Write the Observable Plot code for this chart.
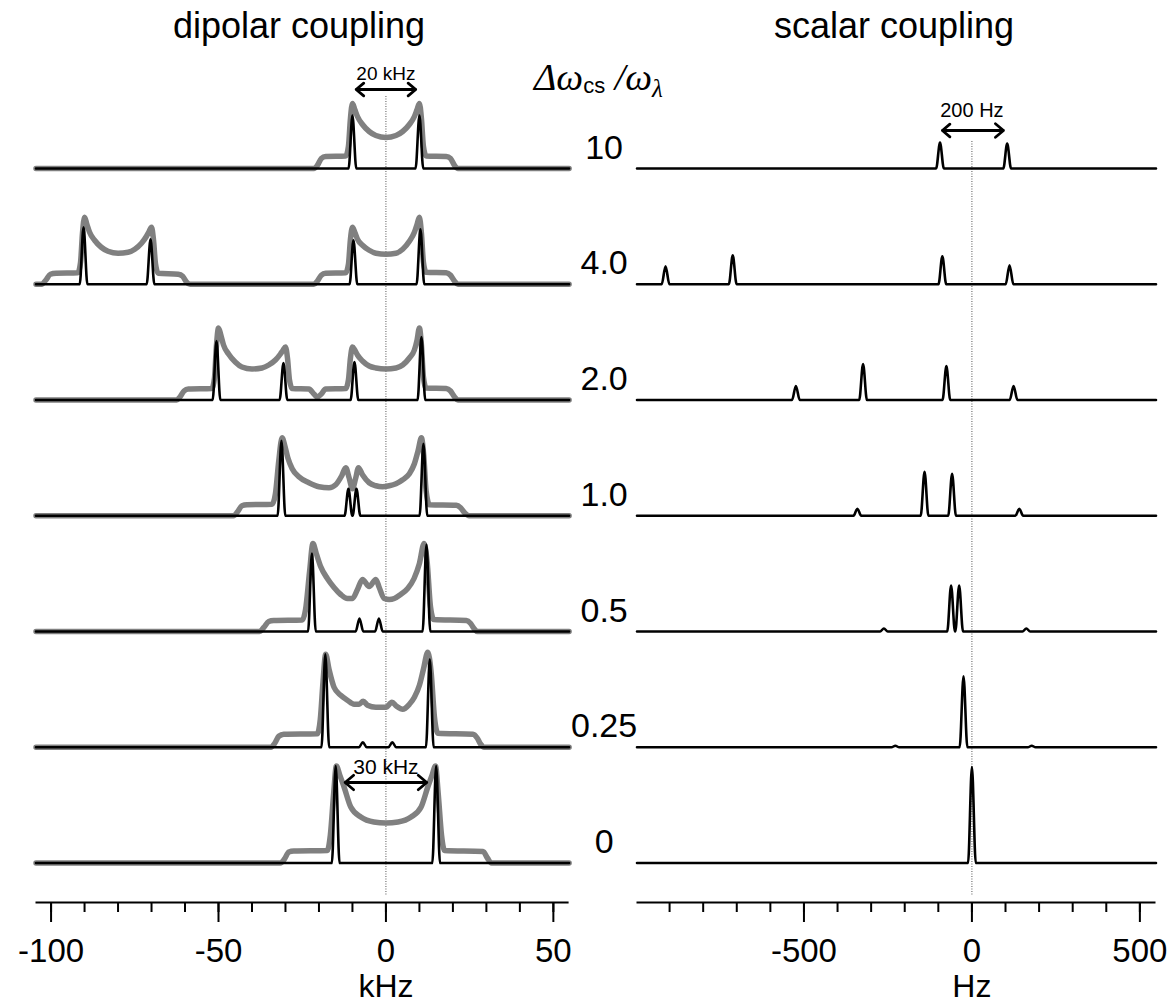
<!DOCTYPE html>
<html>
<head>
<meta charset="utf-8">
<script src="https://cdn.jsdelivr.net/npm/d3@7"></script>
<script src="https://cdn.jsdelivr.net/npm/@observablehq/plot@0.6"></script>
<style>
  html, body { margin: 0; padding: 0; background: #fff; }
  #fig { position: relative; width: 1172px; height: 1004px; overflow: hidden; font-family: "Liberation Sans", Arial, sans-serif; color: #000; }
  #left { position: absolute; left: 0; top: 0; width: 640px; height: 1004px; }
  #right { position: absolute; left: 620px; top: 0; width: 552px; height: 1004px; }
  #fig svg { max-width: none; overflow: visible; }
  .title { position: absolute; top: 8px; font-size: 36px; line-height: 36px; white-space: nowrap; transform: translateX(-50%); }
  #ratio { position: absolute; left: 534px; top: 58px; font-family: "Liberation Serif", "Times New Roman", serif; font-style: italic; font-size: 38px; line-height: 38px; white-space: nowrap; }
  #ratio .cs { font-family: "Liberation Sans", Arial, sans-serif; font-style: normal; font-size: 22px; position: relative; top: 3px; }
  #ratio .lam { font-size: 25px; position: relative; top: 7px; }
</style>
</head>
<body>
<div id="fig">
  <div id="left"></div>
  <div id="right"></div>
  <div class="title" style="left:299px">dipolar coupling</div>
  <div class="title" style="left:894px">scalar coupling</div>
  <div id="ratio">Δω<span class="cs">cs</span> /ω<span class="lam">λ</span></div>
</div>
<script>
// ---------- data ----------
const ratioLabels = ["10", "4.0", "2.0", "1.0", "0.5", "0.25", "0"];

// dipolar coupling: stick lines (kHz) and their heights (a.u.), one list per row (top to bottom)
const dipolarPeakKHz = [
  [-10, 10],
  [-90.3, -70.3, -9.7, 10.3],
  [-50.6, -30.6, -9.4, 10.6],
  [-31.2, -11.2, -8.8, 11.2],
  [-22.1, -7.9, -2.1, 12.1],
  [-18.1, -6.9, 1.9, 13.1],
  [-15, 15]
];
const dipolarPeakHeight = [
  [53, 53],
  [57, 45, 44, 55],
  [59, 37, 38, 63],
  [75, 27, 27, 72],
  [78, 13, 13, 87],
  [93, 5, 5, 88],
  [97, 97]
];

// dipolar coupling: grey powder patterns, [kHz, height] per row
const powder10 = [[-104.5,0],[-21.5,0],[-20.5,3],[-19.3,10],[-18,12],[-12,12.5],[-11.2,22],[-10.6,50],[-10,65],[-9.3,59],[-8.5,52],[-7,44],[-5,37],[-3,33],[0,31],[3,33],[5,37],[7,44],[8.5,52],[9.3,59],[10,65],[10.6,50],[11.2,22],[12,12.5],[18,12],[19.3,10],[20.5,3],[21.5,0],[54.7,0]];
const powder4 = [[-104.5,0],[-102.8,0],[-101.6,4],[-100.2,10],[-98.5,11],[-92,11.5],[-91.2,22],[-90.6,52],[-90,67],[-89.3,60],[-88.5,52],[-87,44],[-85,37],[-83,33],[-80,31],[-77,32],[-75,35],[-73,41],[-71.5,48],[-70.7,53],[-70,57],[-69.4,44],[-68.8,20],[-68,11],[-62,10],[-60.7,8],[-59.5,2],[-58.5,0],[-21.5,0],[-20.5,3],[-19.3,9],[-18,11],[-12,11.5],[-11.2,20],[-10.6,45],[-10,57],[-9.3,52],[-8.5,45],[-7,39],[-5,34],[-3,31],[0,30],[3,31],[5,35],[7,43],[8.5,52],[9.3,60],[10,67],[10.6,51],[11.2,22],[12,12],[18,11.5],[19.3,9],[20.5,3],[21.5,0],[54.7,0]];
const powder2 = [[-104.5,0],[-62.5,0],[-61.5,3],[-60.3,9],[-59,11],[-52,11.5],[-51.2,22],[-50.6,55],[-50,72],[-49.3,65],[-48.5,55],[-47,46],[-45,38],[-43,33],[-40,31],[-37,32],[-35,35],[-33,40],[-31.5,46],[-30.7,50],[-30,53],[-29.4,42],[-28.8,20],[-28,11.5],[-23,11],[-21.5,6],[-20.5,3],[-19.3,6],[-18,11],[-12,11.5],[-11.2,20],[-10.6,42],[-10,53],[-9.3,50],[-8.5,45],[-7,39],[-5,34],[-3,32],[0,31],[3,32],[5,35],[7,42],[8.5,50],[9.3,60],[10,72],[10.6,55],[11.2,23],[12,12],[18,11.5],[19.3,9],[20.5,3],[21.5,0],[54.7,0]];
const powder1 = [[-104.5,0],[-45.5,0],[-44.3,4],[-43,10],[-41.5,11],[-34,11.5],[-33,22],[-32,55],[-31,78],[-30.2,70],[-29.3,58],[-28,47],[-26,39],[-23,33],[-20,29],[-17,28],[-15,31],[-13.2,40],[-12,48],[-11,38],[-10,27],[-9,38],[-8.2,48],[-7,41],[-5,33],[-3,30],[-1,29],[1,30],[3,32],[5,36],[7,42],[8.5,52],[9.6,65],[10.6,78],[11.3,60],[12,25],[13,11],[21,10.5],[22.3,8],[23.5,3],[24.8,0],[54.7,0]];
const powder05 = [[-104.5,0],[-37.8,0],[-36.5,4],[-35,10],[-33.5,11],[-25,11.5],[-24,22],[-22.8,60],[-21.8,88],[-20.8,78],[-19.5,65],[-17.5,53],[-15.5,44],[-13.5,37],[-11.5,33],[-10,33],[-8.5,42],[-7,52],[-5,45],[-3,52],[-2,44],[-0.5,33],[1,32],[2.5,33],[4.4,37],[6.5,43],[8.4,53],[10,68],[11.4,88],[12.3,70],[13.3,25],[14.3,12],[24,11],[25.3,8],[26.3,3],[27.3,0],[54.7,0]];
const powder025 = [[-104.5,0],[-34.3,0],[-33.2,4],[-32,11],[-30.5,13],[-20.5,13.5],[-19.6,28],[-18.8,65],[-18,93],[-17,78],[-15.5,60],[-13.5,52],[-11.5,47],[-9.5,43],[-8,43],[-6.8,46],[-5.5,42],[-3,40],[0,40],[1.8,45],[3.2,41],[5,38],[7,43],[8.5,50],[10,62],[11.2,78],[12.5,95],[13.5,75],[14.5,30],[15.5,14],[26,13],[27.3,9],[28.3,3],[29.3,0],[54.7,0]];
const powder0 = [[-104.5,0],[-31.5,0],[-30.3,4],[-29,11],[-27.5,12],[-17.5,12.5],[-16.6,28],[-15.6,70],[-14.8,97],[-13.8,88],[-12.5,76],[-10.5,56],[-7.5,46],[-3.6,41],[0,40],[3.6,41],[7.5,46],[10.5,56],[12.5,76],[13.8,88],[14.8,97],[15.6,70],[16.6,28],[17.5,12.5],[29,11.5],[30.3,5],[31.5,0],[54.7,0]];
const powderCurves = [powder10, powder4, powder2, powder1, powder05, powder025, powder0];

// scalar coupling: stick lines (Hz) and heights (a.u.)
const scalarPeakHz = [
  [-95, 105],
  [-912, -712, -88, 112],
  [-524, -324, -76, 124],
  [-341, -141, -59, 141],
  [-262, -62, -38, 162],
  [-228, -25, 178],
  [0]
];
const scalarPeakHeight = [
  [26, 25],
  [18, 29, 28, 19],
  [14, 36, 34, 14],
  [7, 44, 42, 7],
  [3, 46, 46, 3],
  [1.5, 71, 1.5],
  [96]
];

// axes
const kHzDomain = [-104.5, 54.7];
const HzDomain = [-997, 548];
const kHzMajor = [-100, -50, 0, 50];
const kHzMinor = [-100, -90, -80, -70, -60, -50, -40, -30, -20, -10, 0, 10, 20, 30, 40, 50];
const HzMajor = [-500, 0, 500];
const HzMinor = [-900, -800, -700, -600, -500, -400, -300, -200, -100, 0, 100, 200, 300, 400, 500];

// annotations: arrow spans
const dipolarArrowTop = [-8.9, 8.9];
const dipolarArrowBottom = [-12.2, 12.2];
const scalarArrowTop = [-88, 94];

// ---------- layout ----------
const ROW = 115.75;          // spacing between stacked baselines (a.u. = px)
const TOP = 862.5;           // y-domain top
const AXIS_GAP = 39.5;       // gap from lowest baseline to axis line
const nRows = ratioLabels.length;
const base = i => (nRows - 1 - i) * ROW;

const font = "Liberation Sans, Arial, sans-serif";
const GRAY = "#808080";

function sticks(pos, amp, w, dom) {
  const pts = [[dom[0], 0]];
  pos.forEach((p, j) => pts.push([p - w, 0], [p, amp[j]], [p + w, 0]));
  pts.push([dom[1], 0]);
  return pts;
}

const grayData = powderCurves.flatMap((pts, i) => pts.map(([x, h]) => ({row: i, x, y: base(i) + h})));
const dipBlack = dipolarPeakKHz.flatMap((pos, i) =>
  sticks(pos, dipolarPeakHeight[i], 1.15, kHzDomain).map(([x, h]) => ({row: i, x, y: base(i) + h})));
const scaBlack = scalarPeakHz.flatMap((pos, i) =>
  sticks(pos, scalarPeakHeight[i], 11.5, HzDomain).map(([x, h]) => ({row: i, x, y: base(i) + h})));

function axisMarks(minor, major, unit) {
  return [
    Plot.ruleY([-AXIS_GAP], {stroke: "black", strokeWidth: 2}),
    Plot.axisX({ticks: minor, tickSize: 10, strokeWidth: 2, tickFormat: () => "", label: null}),
    Plot.axisX({ticks: major, tickSize: 20, strokeWidth: 2, tickPadding: 16, fontSize: 33, tickFormat: d => String(d), label: null}),
    Plot.text([0], {x: d => d, text: () => unit, frameAnchor: "bottom", dy: 94, fontSize: 32, lineAnchor: "bottom"})
  ];
}

function arrowPair(span, yOff, label, labelOff, size) {
  const d = [{x1: 0, x2: span[0]}, {x1: 0, x2: span[1]}];
  return [
    Plot.arrow(d, {x1: "x1", x2: "x2", y1: yOff, y2: yOff, stroke: "black", strokeWidth: 2.8, headLength: 6, headAngle: 80}),
    Plot.text([label], {x: 0, y: labelOff, text: d => d, fontSize: size, lineAnchor: "bottom"})
  ];
}

const left = Plot.plot({
  width: 640, height: 1004,
  marginLeft: 35.5, marginRight: 71.4, marginTop: 0, marginBottom: 102,
  x: {domain: kHzDomain, label: null},
  y: {domain: [-AXIS_GAP, TOP], axis: null},
  style: {background: "transparent", overflow: "visible", fontFamily: font},
  marks: [
    Plot.ruleX([0], {y1: base(0) + 72, y2: -33.5, stroke: "#555", strokeWidth: 1, strokeDasharray: "1,1.5"}),
    Plot.line(grayData, {x: "x", y: "y", z: "row", stroke: GRAY, strokeWidth: 5.5, curve: "monotone-x", strokeLinejoin: "round"}),
    Plot.line(dipBlack, {x: "x", y: "y", z: "row", stroke: "black", strokeWidth: 2.6, curve: "monotone-x", strokeLinejoin: "round"}),
    ...axisMarks(kHzMinor, kHzMajor, "kHz"),
    ...arrowPair(dipolarArrowTop, base(0) + 79, "20 kHz", base(0) + 89, 19),
    ...arrowPair(dipolarArrowBottom, base(nRows - 1) + 80.5, "30 kHz", base(nRows - 1) + 89.5, 21),
    Plot.text(ratioLabels, {y: (d, i) => base(i) + 10, text: d => d, frameAnchor: "right", dx: 35, textAnchor: "middle", fontSize: 34, lineAnchor: "bottom"})
  ]
});

const right = Plot.plot({
  width: 552, height: 1004,
  marginLeft: 16.5, marginRight: 16.5, marginTop: 0, marginBottom: 102,
  x: {domain: HzDomain, label: null},
  y: {domain: [-AXIS_GAP, TOP], axis: null},
  style: {background: "transparent", overflow: "visible", fontFamily: font},
  marks: [
    Plot.ruleX([0], {y1: base(0) + 27, y2: -33.5, stroke: "#555", strokeWidth: 1, strokeDasharray: "1,1.5"}),
    Plot.line(scaBlack, {x: "x", y: "y", z: "row", stroke: "black", strokeWidth: 2.6, curve: "monotone-x", strokeLinejoin: "round"}),
    ...axisMarks(HzMinor, HzMajor, "Hz"),
    ...arrowPair(scalarArrowTop, base(0) + 38, "200 Hz", base(0) + 52, 20)
  ]
});

document.getElementById("left").append(left);
document.getElementById("right").append(right);
</script>
</body>
</html>
